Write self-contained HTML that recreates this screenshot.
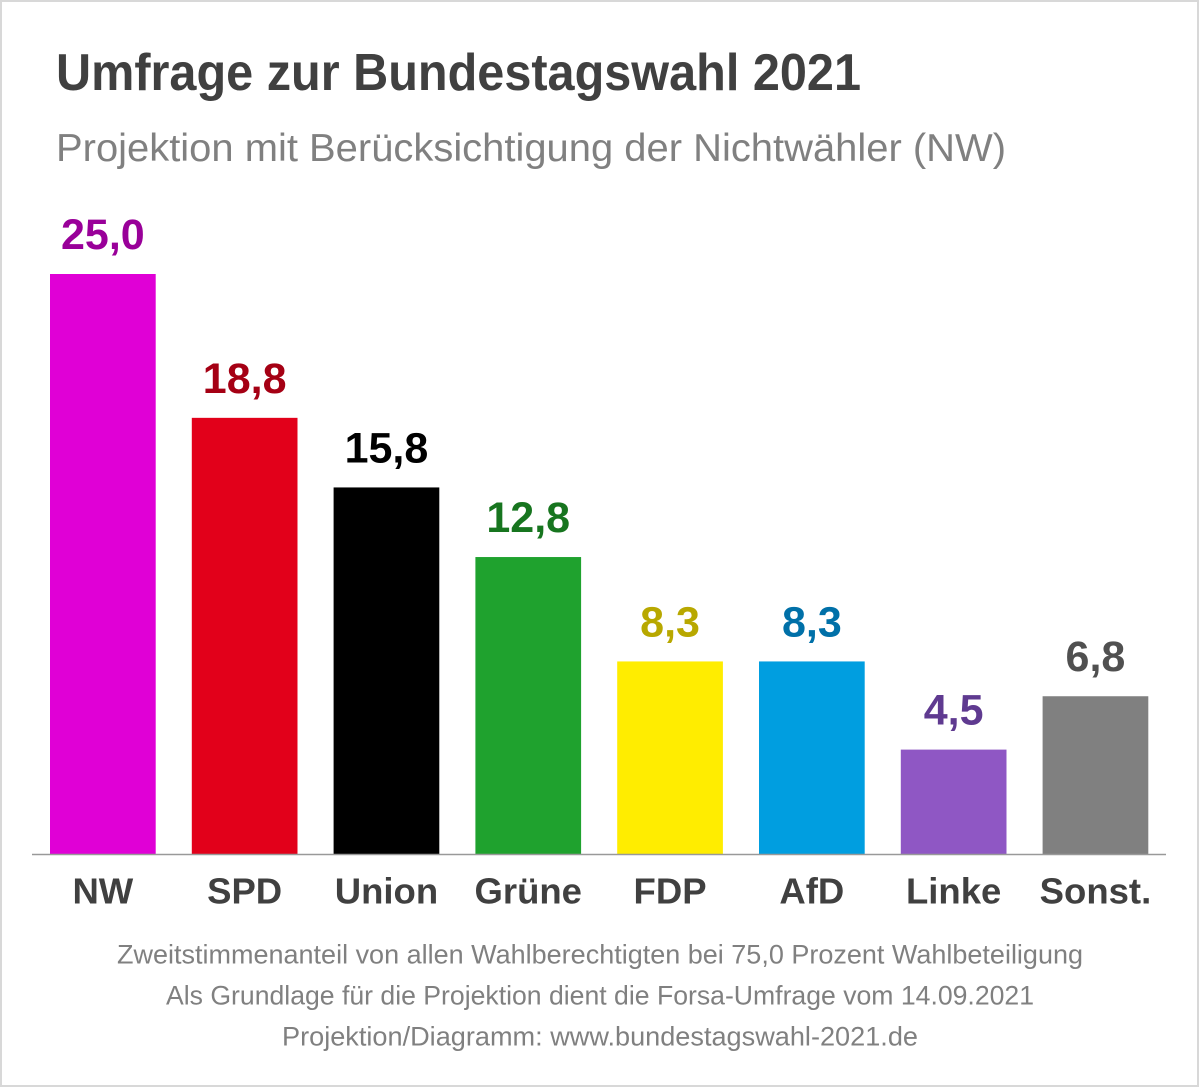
<!DOCTYPE html>
<html lang="de">
<head>
<meta charset="utf-8">
<title>Umfrage zur Bundestagswahl 2021</title>
<style>
html,body{margin:0;padding:0;background:#fff;width:1200px;height:1088px;overflow:hidden}
svg{display:block}
text{font-family:"Liberation Sans",sans-serif}
.title{font-size:52px;font-weight:700;fill:#404040}
.subtitle{font-size:39px;fill:#808080}
.foot{font-size:26.5px;fill:#808080;text-anchor:middle}
.cat{font-size:36.5px;font-weight:700;fill:#404040;text-anchor:middle}
.val{font-size:43px;font-weight:700;text-anchor:middle}
.s0.bar{fill:#e000d6}.s1.bar{fill:#e2001a}.s2.bar{fill:#000}.s3.bar{fill:#1fa22e}
.s4.bar{fill:#ffed00}.s5.bar{fill:#009ee0}.s6.bar{fill:#8f57c4}.s7.bar{fill:#808080}
.s0.val{fill:#990099}.s1.val{fill:#a50014}.s2.val{fill:#000}.s3.val{fill:#17751f}
.s4.val{fill:#b8a800}.s5.val{fill:#0070a8}.s6.val{fill:#5f3a90}.s7.val{fill:#505050}
</style>
</head>
<body>
<svg id="chart" xmlns="http://www.w3.org/2000/svg" width="1200" height="1088" viewBox="0 0 1200 1088">
  <rect x="1" y="1" width="1197" height="1085" fill="#fff" stroke="#d8d8d8" stroke-width="2"/>
  <text class="title" x="56" y="90" textLength="805" lengthAdjust="spacingAndGlyphs">Umfrage zur Bundestagswahl 2021</text>
  <text class="subtitle" x="56" y="161" textLength="950" lengthAdjust="spacingAndGlyphs">Projektion mit Berücksichtigung der Nichtwähler (NW)</text>
  <g id="bars"></g>
  <line x1="32" x2="1166" y1="854.5" y2="854.5" stroke="#999" stroke-width="1.6"/>
  <text class="foot" x="600" y="963.5" textLength="966" lengthAdjust="spacingAndGlyphs">Zweitstimmenanteil von allen Wahlberechtigten bei 75,0 Prozent Wahlbeteiligung</text>
  <text class="foot" x="600" y="1004.5" textLength="868" lengthAdjust="spacingAndGlyphs">Als Grundlage für die Projektion dient die Forsa-Umfrage vom 14.09.2021</text>
  <text class="foot" x="600" y="1045.5" textLength="636" lengthAdjust="spacingAndGlyphs">Projektion/Diagramm: www.bundestagswahl-2021.de</text>
</svg>
<script>
const categories = ['NW', 'SPD', 'Union', 'Grüne', 'FDP', 'AfD', 'Linke', 'Sonst.'];
const values = [25.0, 18.8, 15.8, 12.8, 8.3, 8.3, 4.5, 6.8];

const NS = 'http://www.w3.org/2000/svg';
const group = document.getElementById('bars');
const plotLeft = 50, bandStep = 141.8, bandWidth = 105.7;
const baseY = 854, pxPerUnit = 23.2;
function xScale(i) { return plotLeft + i * bandStep; }
function yScale(v) { return baseY - v * pxPerUnit; }

categories.forEach(function (cat, i) {
  const v = values[i];
  const cx = xScale(i) + bandWidth / 2;

  const bar = document.createElementNS(NS, 'rect');
  
  
  bar.setAttribute('class', 'bar s' + i);
  bar.setAttribute('x', xScale(i));
  bar.setAttribute('y', yScale(v));
  bar.setAttribute('width', bandWidth);
  bar.setAttribute('height', baseY - yScale(v));
  group.appendChild(bar);

  const label = document.createElementNS(NS, 'text');
  
  
  label.setAttribute('class', 'val s' + i);
  label.setAttribute('x', cx);
  label.setAttribute('y', yScale(v) - 25);
  label.textContent = v.toFixed(1).replace('.', ',');
  group.appendChild(label);

  const tick = document.createElementNS(NS, 'text');
  
  
  tick.setAttribute('class', 'cat');
  tick.setAttribute('x', cx);
  tick.setAttribute('y', 903.5);
  tick.textContent = cat;
  group.appendChild(tick);
});
</script>
</body>
</html>
